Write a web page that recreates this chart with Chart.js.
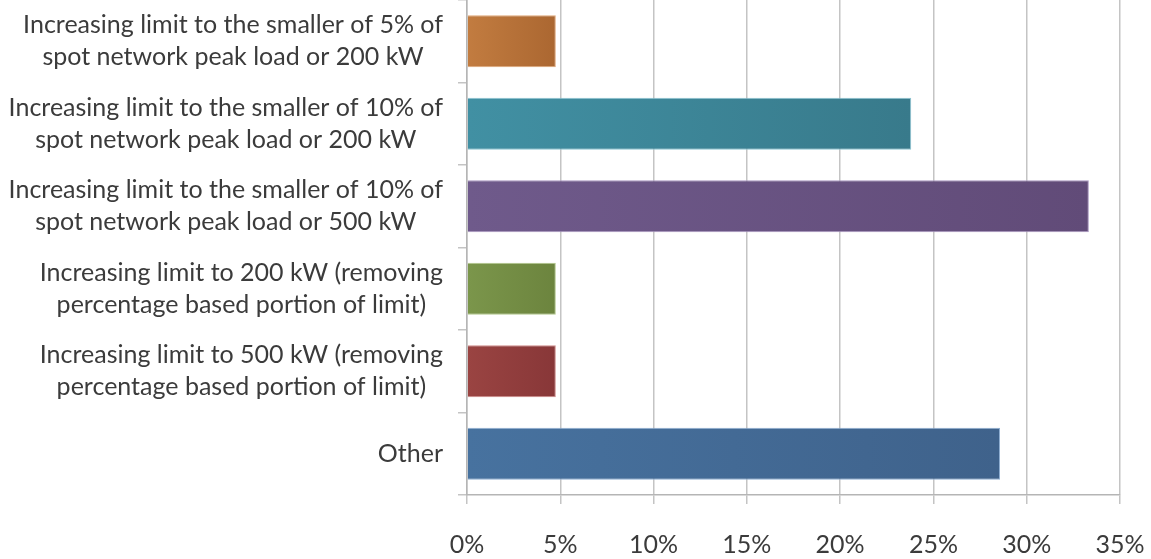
<!DOCTYPE html>
<html>
<head>
<meta charset="utf-8">
<script src="https://cdn.jsdelivr.net/npm/chart.js@4/dist/chart.umd.min.js"></script>
<style>
  html, body { margin: 0; padding: 0; background: #fff; }
  canvas { display: block; }
</style>
</head>
<body>
<canvas id="bar_chart" width="1151" height="559"></canvas>
<script>
// categories, top to bottom
const categories = [
    ["Increasing limit to the smaller of 5% of", "spot network peak load or 200 kW"],
    ["Increasing limit to the smaller of 10% of", "spot network peak load or 200 kW"],
    ["Increasing limit to the smaller of 10% of", "spot network peak load or 500 kW"],
    ["Increasing limit to 200 kW (removing", "percentage based portion of limit)"],
    ["Increasing limit to 500 kW (removing", "percentage based portion of limit)"],
    ["Other"]
];
// share of responses, %
const shares = [4.76, 23.81, 33.33, 4.76, 4.76, 28.57];
const xTicks = [0, 5, 10, 15, 20, 25, 30, 35];

// bar colours (left -> right shading)
const barLight = ["#c27c40", "#4190a3", "#6f5a8b", "#7b964b", "#9a4442", "#47729f"];
const barDark = ["#ab6731", "#387a8b", "#614b78", "#6c843e", "#883738", "#3f628b"];
const barEdge = ["#e0a677", "#8cc4d2", "#a996c0", "#b2c88a", "#cf8a88", "#8eaed2"];

const textColor = "#3b3b3b";
const gridColor = "#c4c4c4";
const fontFamily = "Lato, 'Open Sans', sans-serif";

function barFill(context) {
    let chart = context.chart;
    let i = context.dataIndex;
    if (!chart.chartArea || !chart.scales.x) return barLight[i];
    let x0 = chart.scales.x.getPixelForValue(0);
    let x1 = chart.scales.x.getPixelForValue(context.raw);
    let g = chart.ctx.createLinearGradient(x0, 0, x1, 0);
    g.addColorStop(0, barLight[i]);
    g.addColorStop(1, barDark[i]);
    return g;
}

// category labels: lines centred on each other, block right aligned to axis
const yLabels = {
    id: "yLabels",
    afterDraw(chart) {
        let c = chart.ctx;
        let y = chart.scales.y;
        c.save();
        c.font = "25px " + fontFamily;
        c.fillStyle = textColor;
        c.textAlign = "center";
        c.textBaseline = "middle";
        categories.forEach((lines, i) => {
            let w = Math.max(...lines.map(t => c.measureText(t).width));
            let cx = y.right - 24 - w / 2;
            let cy = y.getPixelForTick(i);
            lines.forEach((t, k) => {
                c.fillText(t, cx, cy + (k - (lines.length - 1) / 2) * 32);
            });
        });
        c.restore();
    }
};

let can = document.getElementById("bar_chart");
let c = can.getContext("2d");
let chart = new Chart(c, {
    type: "bar",
    data: {
        labels: categories,
        datasets: [{
            data: shares,
            backgroundColor: barFill,
            borderColor: barEdge,
            borderWidth: 1,
            categoryPercentage: 1,
            barPercentage: 0.63
        }]
    },
    options: {
        indexAxis: "y",
        responsive: false,
        animation: false,
        layout: { padding: { top: 0, right: 31, bottom: 0, left: 0 } },
        plugins: {
            legend: { display: false },
            tooltip: { enabled: false }
        },
        scales: {
            x: {
                min: 0,
                max: 35,
                afterBuildTicks: s => { s.ticks = xTicks.map(v => ({ value: v })); },
                afterFit: s => {
                    s.height = 64;
                    s.paddingLeft = 0;
                    s.paddingRight = 0;
                },
                ticks: {
                    callback: v => v + "%",
                    color: textColor,
                    padding: 26,
                    maxRotation: 0,
                    font: { family: fontFamily, size: 25 }
                },
                grid: {
                    color: gridColor,
                    lineWidth: 1.5,
                    tickLength: 9
                },
                border: { color: "#b5b5b5", width: 1.5 }
            },
            y: {
                afterFit: s => { s.width = 467; },
                ticks: { display: false },
                grid: {
                    drawOnChartArea: false,
                    color: gridColor,
                    lineWidth: 1.5,
                    tickLength: 9
                },
                border: { color: "#b5b5b5", width: 1.5 }
            }
        }
    },
    plugins: [yLabels]
});
</script>
</body>
</html>
